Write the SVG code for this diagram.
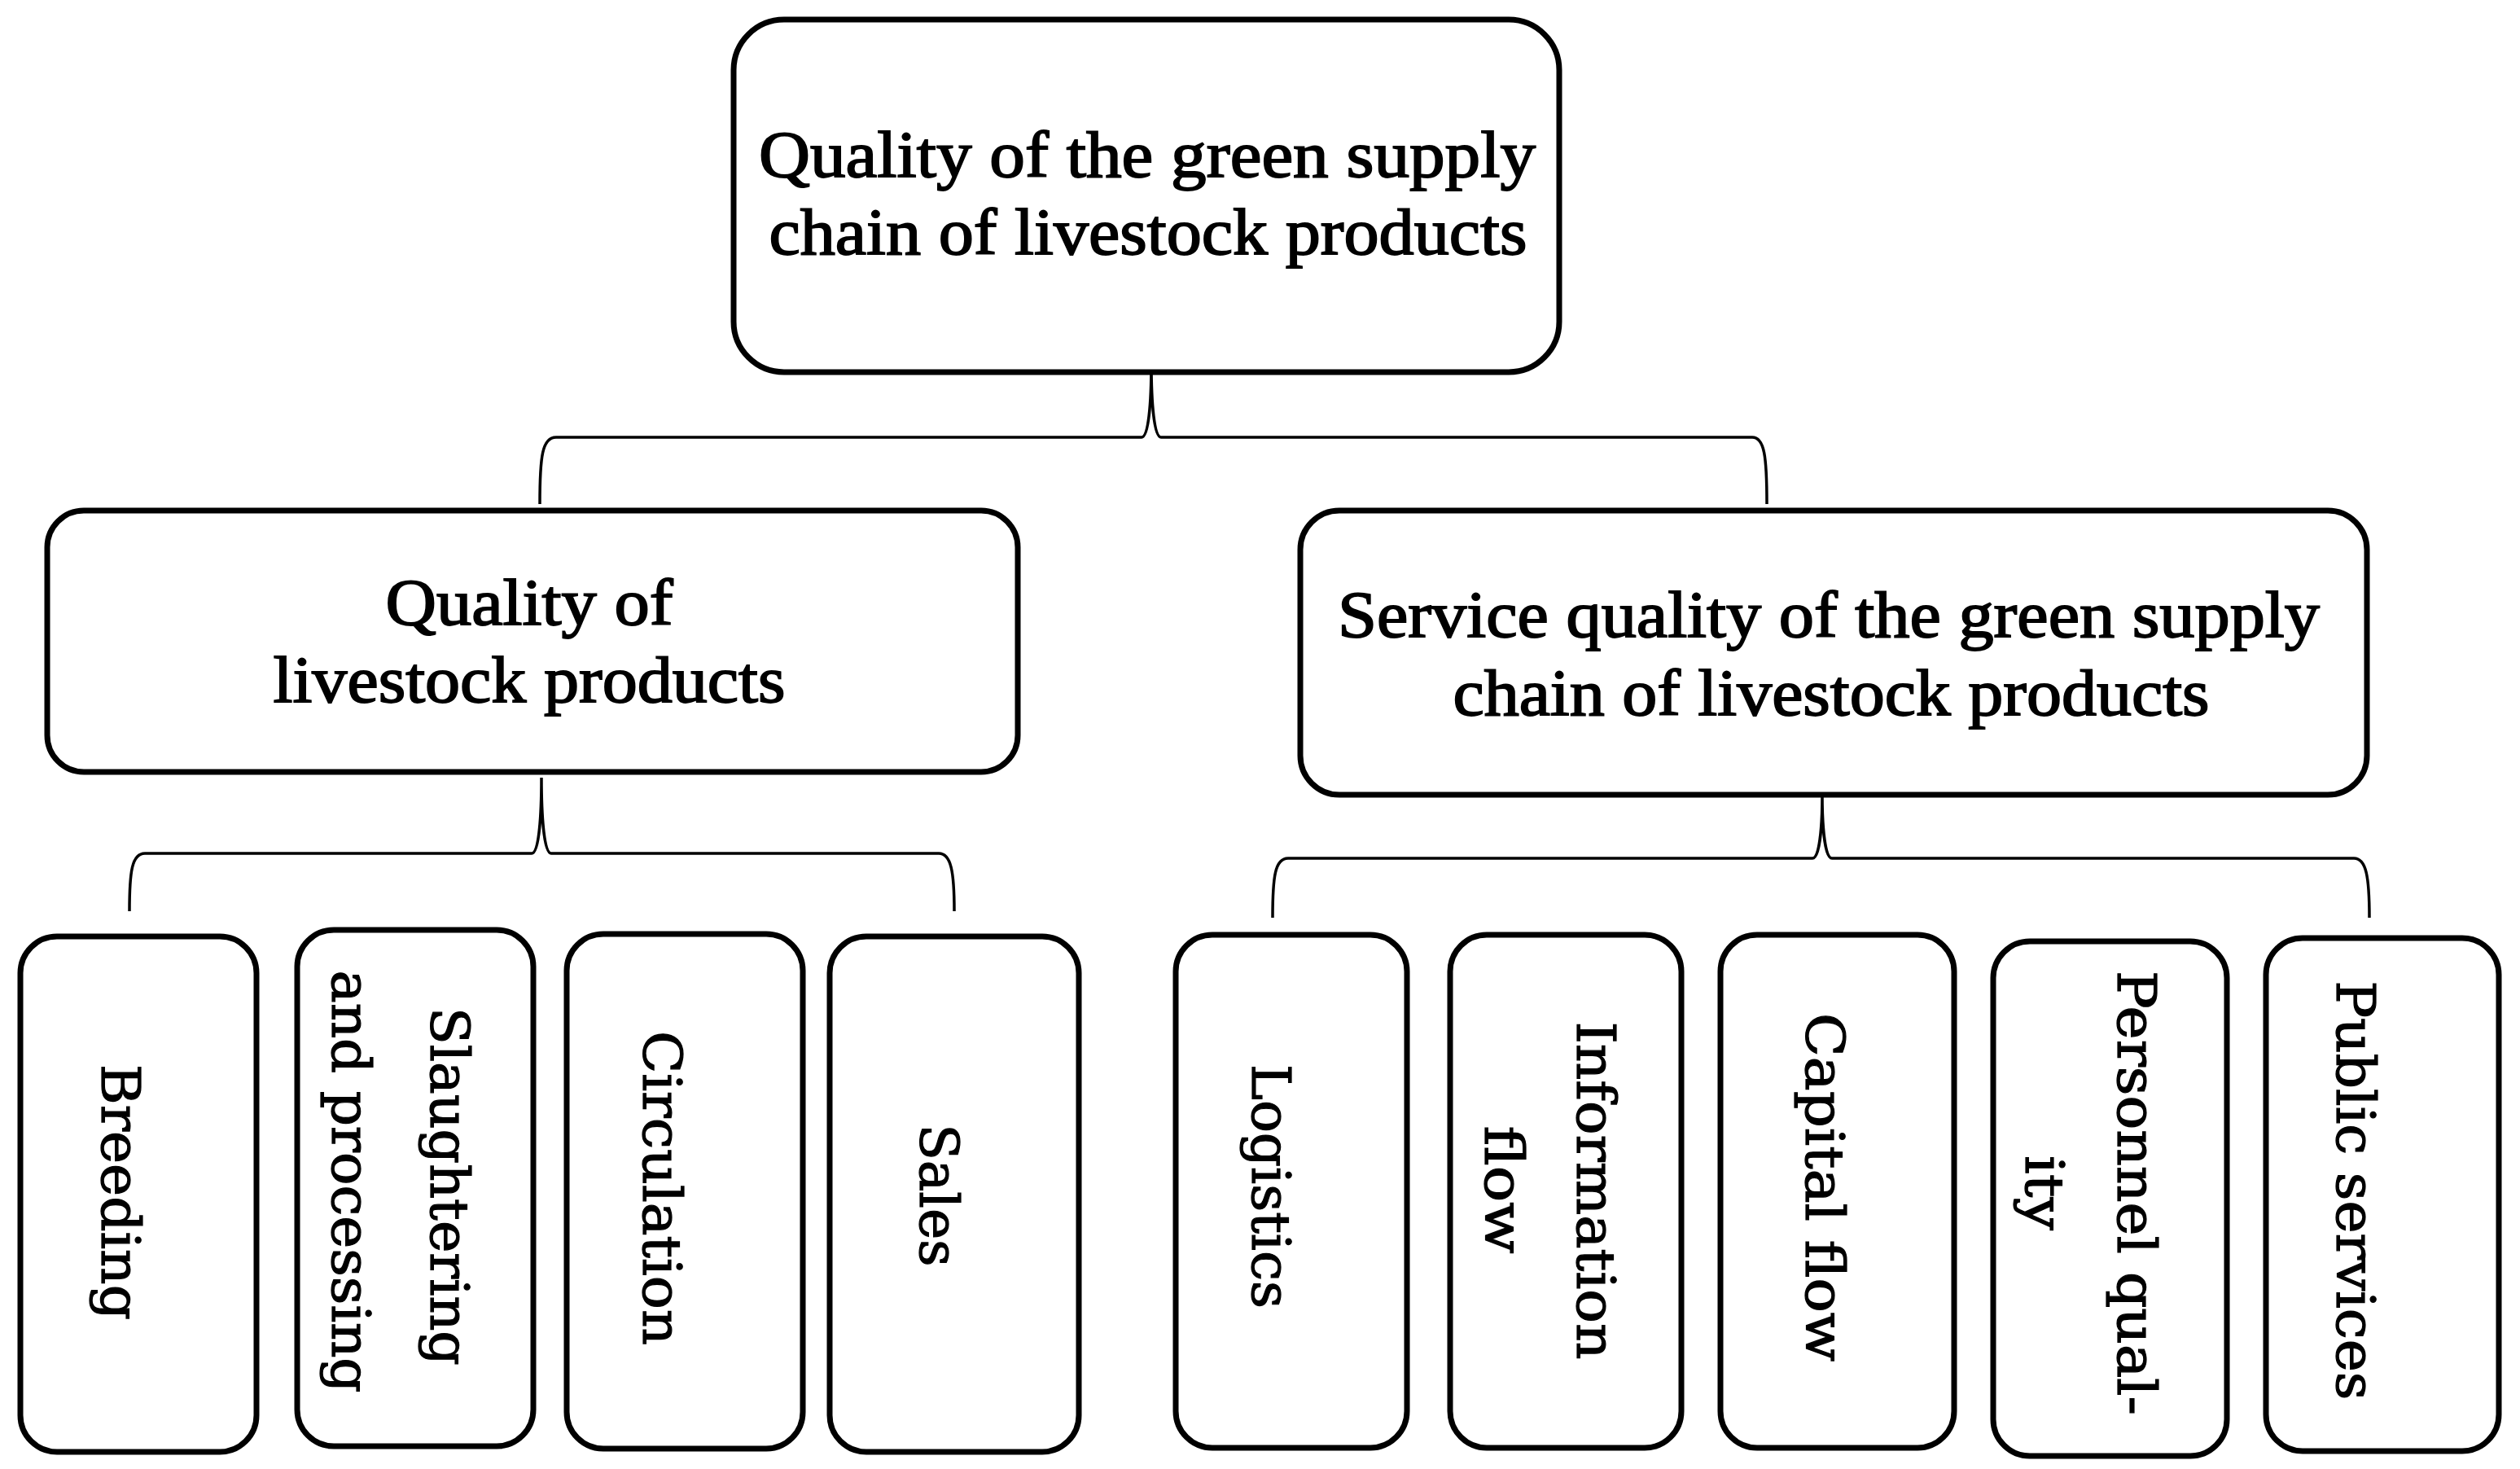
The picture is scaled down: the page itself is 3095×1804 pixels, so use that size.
<svg xmlns="http://www.w3.org/2000/svg" width="3095" height="1804" viewBox="0 0 3095 1804">
<style>
.box{fill:#fff;stroke:#000;stroke-width:7}
.con{fill:none;stroke:#000;stroke-width:3.5}
.t{font-family:"Liberation Serif","Times New Roman",serif;font-size:80px;fill:#000;stroke:#000;stroke-width:1.8;text-anchor:middle}
.v{font-family:"DejaVu Serif",serif;font-size:66px;fill:#000;stroke:#000;stroke-width:1.2;text-anchor:middle}
</style>
<rect width="3095" height="1804" fill="#fff"/>
<g id="connectors">
<path class="con" d="M663 619 C663 560 666 537 683 537 L1402 537 C1410 537 1414 500 1414 445 C1414 500 1418 537 1426 537 L2152 537 C2167 537 2170 560 2170 619"/>
<path class="con" d="M159 1119 C159 1070 162 1048 178 1048 L653 1048 C661 1048 665 1010 665 955 C665 1010 669 1048 677 1048 L1153 1048 C1168 1048 1172 1070 1172 1119"/>
<path class="con" d="M1563 1127 C1563 1076 1566 1054 1582 1054 L2226 1054 C2234 1054 2238 1020 2238 976 C2238 1020 2242 1054 2250 1054 L2891 1054 C2906 1054 2910 1076 2910 1127"/>
</g>
<g id="n-top">
<rect class="box" x="901" y="24" width="1014" height="433" rx="62"/>
<text class="t" x="1409" y="217" textLength="954" lengthAdjust="spacingAndGlyphs">Quality of the green supply</text>
<text class="t" x="1410" y="312" textLength="931" lengthAdjust="spacingAndGlyphs">chain of livestock products</text>
</g>
<g id="n-products">
<rect class="box" x="58" y="627" width="1192" height="321" rx="45"/>
<text class="t" x="650" y="767" textLength="353" lengthAdjust="spacingAndGlyphs">Quality of</text>
<text class="t" x="650" y="862" textLength="629" lengthAdjust="spacingAndGlyphs">livestock products</text>
</g>
<g id="n-service">
<rect class="box" x="1597" y="627" width="1310" height="349" rx="48"/>
<text class="t" x="2246" y="782" textLength="1206" lengthAdjust="spacingAndGlyphs">Service quality of the green supply</text>
<text class="t" x="2249" y="878" textLength="929" lengthAdjust="spacingAndGlyphs">chain of livestock products</text>
</g>
<g id="n-breeding">
<rect class="box" x="25" y="1150" width="290" height="633" rx="45"/>
<text class="v" transform="translate(125,1464) rotate(90)" textLength="314" lengthAdjust="spacingAndGlyphs">Breeding</text>
</g>
<g id="n-slaughtering">
<rect class="box" x="365" y="1142" width="290" height="634" rx="45"/>
<text class="v" transform="translate(529,1457) rotate(90)" textLength="440" lengthAdjust="spacingAndGlyphs">Slaughtering</text>
<text class="v" transform="translate(408,1451) rotate(90)" textLength="519" lengthAdjust="spacingAndGlyphs">and processing</text>
</g>
<g id="n-circulation">
<rect class="box" x="696" y="1147" width="290" height="632" rx="45"/>
<text class="v" transform="translate(790,1459) rotate(90)" textLength="386" lengthAdjust="spacingAndGlyphs">Circulation</text>
</g>
<g id="n-sales">
<rect class="box" x="1019" y="1150" width="306" height="633" rx="45"/>
<text class="v" transform="translate(1130,1468) rotate(90)" textLength="175" lengthAdjust="spacingAndGlyphs">Sales</text>
</g>
<g id="n-logistics">
<rect class="box" x="1444" y="1148" width="284" height="630" rx="45"/>
<text class="v" transform="translate(1538,1457) rotate(90)" textLength="300" lengthAdjust="spacingAndGlyphs">Logistics</text>
</g>
<g id="n-information">
<rect class="box" x="1781" y="1148" width="284" height="630" rx="45"/>
<text class="v" transform="translate(1937,1462) rotate(90)" textLength="415" lengthAdjust="spacingAndGlyphs">Information</text>
<text class="v" transform="translate(1824,1461) rotate(90)" textLength="157" lengthAdjust="spacingAndGlyphs">flow</text>
</g>
<g id="n-capital">
<rect class="box" x="2113" y="1148" width="287" height="630" rx="45"/>
<text class="v" transform="translate(2218,1458) rotate(90)" textLength="428" lengthAdjust="spacingAndGlyphs">Capital flow</text>
</g>
<g id="n-personnel">
<rect class="box" x="2448" y="1156" width="287" height="632" rx="45"/>
<text class="v" transform="translate(2601,1465) rotate(90)" textLength="546" lengthAdjust="spacingAndGlyphs">Personnel qual-</text>
<text class="v" transform="translate(2488,1465) rotate(90)" textLength="92" lengthAdjust="spacingAndGlyphs">ity</text>
</g>
<g id="n-public">
<rect class="box" x="2783" y="1152" width="286" height="630" rx="45"/>
<text class="v" transform="translate(2870,1462) rotate(90)" textLength="515" lengthAdjust="spacingAndGlyphs">Public services</text>
</g>
</svg>
